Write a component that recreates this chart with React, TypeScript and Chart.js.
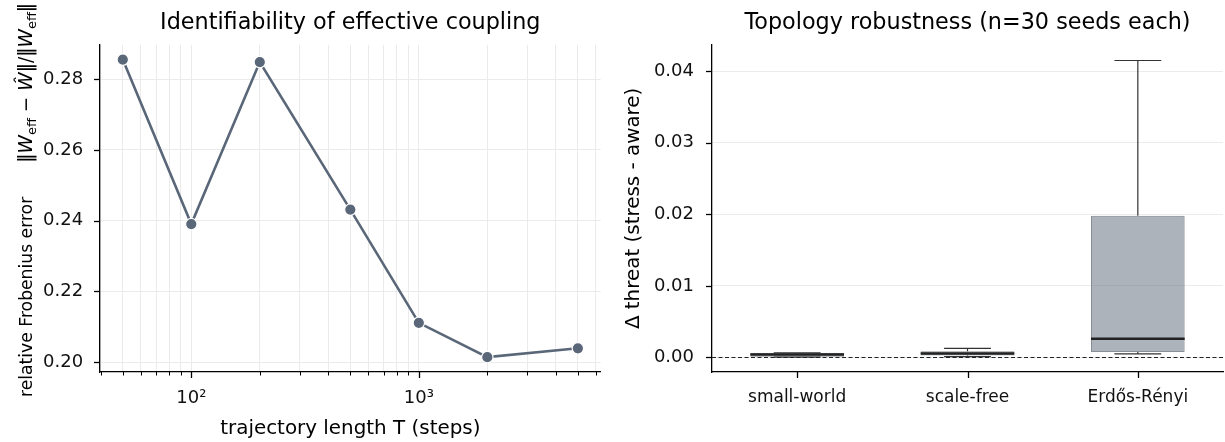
import React, { useEffect, useRef } from "react";
import { Chart, registerables } from "chart.js";

Chart.register(...registerables);

// ---------------- data ----------------
const trajLengths = [50, 100, 200, 500, 1000, 2000, 5000];
const frobErrors = [0.2855, 0.239, 0.2848, 0.2431, 0.2111, 0.2014, 0.2039];
const leftYTicks = [0.2, 0.22, 0.24, 0.26, 0.28];
const leftXMajor = [100, 1000];
const leftXMinor = [40, 50, 60, 70, 80, 90, 200, 300, 400, 500, 600, 700, 800, 900, 2000, 3000, 4000, 5000, 6000];

const topologies = ["small-world", "scale-free", "Erdős-Rényi"];
const whiskerLow = [0.00003, 0.00012, 0.0005];
const boxQ1 = [0.0001, 0.00025, 0.00075];
const boxMedian = [0.0004, 0.00055, 0.0026];
const boxQ3 = [0.0006, 0.00085, 0.0198];
const whiskerHigh = [0.00065, 0.00125, 0.0415];
const rightYTicks = [0, 0.01, 0.02, 0.03, 0.04];

const leftTitle = "Identifiability of effective coupling";
const rightTitle = "Topology robustness (n=30 seeds each)";
const leftXLabel = "trajectory length T (steps)";
const leftYLabelText = "relative Frobenius error";
const rightYLabel = "Δ threat (stress - aware)";

// ---------------- styles ----------------
const FONT = "'DejaVu Sans', sans-serif";
const SLATE = "#5a6778";
const BOX_FILL = "rgba(90,103,120,0.5)";
const BOX_EDGE = "#8a8f96";
const GRID = "#ebebeb";
const TICK_SIZE = 18;
const LABEL_SIZE = 19.9;
const YLABEL_PLAIN_SIZE = 17.2;
const YLABEL_MATH_SIZE = 18.6;
const TITLE_SIZE = 22.3;

const tickMarksPlugin = {
  id: "tickMarks",
  afterDraw(chart: any) {
    const ctx = chart.ctx;
    const area = chart.chartArea;
    ctx.save();
    ctx.strokeStyle = "#000";
    for (const id of ["x", "y"]) {
      const s = chart.scales[id];
      s.ticks.forEach((t: any, i: number) => {
        const p = Math.round(s.getPixelForTick(i)) + 0.5;
        const major = t.major !== false;
        const len = major ? 6 : 3.5;
        ctx.lineWidth = major ? 1.3 : 1;
        ctx.beginPath();
        if (s.isHorizontal()) {
          ctx.moveTo(p, area.bottom);
          ctx.lineTo(p, area.bottom + len);
        } else {
          ctx.moveTo(area.left, p);
          ctx.lineTo(area.left - len, p);
        }
        ctx.stroke();
      });
    }
    ctx.restore();
  },
};

const mathYLabelPlugin = {
  id: "mathYLabel",
  afterDraw(chart: any) {
    const ctx = chart.ctx;
    const m = YLABEL_MATH_SIZE;
    const base = `${m}px ${FONT}`;
    const ital = `italic ${m}px ${FONT}`;
    const sub = `${m * 0.7}px ${FONT}`;
    const subDy = m * 0.22;
    const segs = [
      { t: leftYLabelText, f: `${YLABEL_PLAIN_SIZE}px ${FONT}`, dy: 0, gap: 0 },
      { t: "‖", f: base, dy: 0, gap: 34 },
      { t: "W", f: ital, dy: 0, gap: 0 },
      { t: "eff", f: sub, dy: subDy, gap: 0 },
      { t: " − ", f: base, dy: 0, gap: 0 },
      { t: "Ŵ", f: ital, dy: 0, gap: 0 },
      { t: "‖/‖", f: base, dy: 0, gap: 0 },
      { t: "W", f: ital, dy: 0, gap: 0 },
      { t: "eff", f: sub, dy: subDy, gap: 0 },
      { t: "‖", f: base, dy: 0, gap: 0 },
    ];
    ctx.save();
    ctx.translate(32, 397);
    ctx.rotate(-Math.PI / 2);
    ctx.fillStyle = "#000";
    ctx.textBaseline = "alphabetic";
    ctx.textAlign = "left";
    let x = 0;
    for (const s of segs) {
      x += s.gap;
      ctx.font = s.f;
      ctx.fillText(s.t, x, s.dy);
      x += ctx.measureText(s.t).width;
    }
    ctx.restore();
  },
};

const boxPlotPlugin = {
  id: "boxWhiskers",
  afterDatasetsDraw(chart: any) {
    const ctx = chart.ctx;
    const meta = chart.getDatasetMeta(0);
    const y = chart.scales.y;
    ctx.save();
    meta.data.forEach((el: any, i: number) => {
      const x = el.x;
      const w = el.width;
      const yLo = y.getPixelForValue(whiskerLow[i]);
      const yQ1 = y.getPixelForValue(boxQ1[i]);
      const yQ3 = y.getPixelForValue(boxQ3[i]);
      const yHi = y.getPixelForValue(whiskerHigh[i]);
      const yMed = y.getPixelForValue(boxMedian[i]);
      ctx.strokeStyle = "#333";
      ctx.lineWidth = 1.2;
      ctx.beginPath();
      ctx.moveTo(x, yQ3);
      ctx.lineTo(x, yHi);
      ctx.moveTo(x, yQ1);
      ctx.lineTo(x, yLo);
      ctx.moveTo(x - w / 4, yHi);
      ctx.lineTo(x + w / 4, yHi);
      ctx.moveTo(x - w / 4, yLo);
      ctx.lineTo(x + w / 4, yLo);
      ctx.stroke();
      ctx.strokeStyle = "#222";
      ctx.lineWidth = 2.5;
      ctx.beginPath();
      ctx.moveTo(x - w / 2, yMed);
      ctx.lineTo(x + w / 2, yMed);
      ctx.stroke();
    });
    const area = chart.chartArea;
    const y0 = Math.round(y.getPixelForValue(0)) + 0.5;
    ctx.strokeStyle = "#222";
    ctx.lineWidth = 1;
    ctx.setLineDash([4, 2.5]);
    ctx.beginPath();
    ctx.moveTo(area.left, y0);
    ctx.lineTo(area.right, y0);
    ctx.stroke();
    ctx.restore();
  },
};

function LeftChart() {
  const ref = useRef<HTMLCanvasElement>(null);
  useEffect(() => {
    const chart = new Chart(ref.current as HTMLCanvasElement, {
      type: "line",
      data: {
        datasets: [
          {
            data: trajLengths.map((x, i) => ({ x, y: frobErrors[i] })),
            borderColor: SLATE,
            borderWidth: 2.6,
            pointRadius: 5.7,
            pointBackgroundColor: SLATE,
            pointBorderColor: "#ffffff",
            pointBorderWidth: 1.2,
            tension: 0,
          },
        ],
      },
      options: {
        responsive: false,
        animation: false,
        devicePixelRatio: 1,
        layout: { padding: { left: 43, right: 8, top: 0, bottom: 0 } },
        plugins: {
          legend: { display: false },
          tooltip: { enabled: false },
          title: {
            display: true,
            text: leftTitle,
            fullSize: false,
            color: "#000",
            font: { family: FONT, size: TITLE_SIZE, weight: "normal", lineHeight: 1.2 },
            padding: { top: 10, bottom: 8 },
          },
        },
        scales: {
          x: {
            type: "logarithmic",
            position: "bottom",
            min: 39.7,
            max: 6295,
            afterBuildTicks: (s: any) => {
              const all = [...leftXMinor, ...leftXMajor].sort((a, b) => a - b);
              s.ticks = all.map((v) => ({ value: v, major: leftXMajor.includes(v) }));
            },
            afterFit: (s: any) => {
              s.height = 70;
            },
            ticks: {
              autoSkip: false,
              maxRotation: 0,
              color: "#111",
              padding: 16,
              font: { family: FONT, size: TICK_SIZE },
              callback: (v: any) => (v === 100 ? "10²" : v === 1000 ? "10³" : ""),
            },
            grid: { color: GRID, lineWidth: 1, drawTicks: false },
            border: { color: "#000", width: 1.3 },
            title: {
              display: true,
              text: leftXLabel,
              color: "#000",
              font: { family: FONT, size: LABEL_SIZE, lineHeight: 1.2 },
              padding: { top: 0, bottom: 1 },
            },
          },
          y: {
            type: "linear",
            position: "left",
            min: 0.1972,
            max: 0.2897,
            afterBuildTicks: (s: any) => {
              s.ticks = leftYTicks.map((v) => ({ value: v }));
            },
            afterFit: (s: any) => {
              s.width = 57;
            },
            ticks: {
              color: "#111",
              padding: 17,
              crossAlign: "far",
              font: { family: FONT, size: TICK_SIZE },
              callback: (v: any) => Number(v).toFixed(2),
            },
            grid: { color: GRID, lineWidth: 1, drawTicks: false },
            border: { color: "#000", width: 1.3 },
          },
        },
      } as any,
      plugins: [tickMarksPlugin, mathYLabelPlugin],
    });
    return () => chart.destroy();
  }, []);
  return (
    <canvas
      ref={ref}
      width={612}
      height={442}
      style={{ position: "absolute", left: 0, top: 0, width: 612, height: 442 }}
    />
  );
}

function RightChart() {
  const ref = useRef<HTMLCanvasElement>(null);
  useEffect(() => {
    const chart = new Chart(ref.current as HTMLCanvasElement, {
      type: "bar",
      data: {
        labels: topologies,
        datasets: [
          {
            data: topologies.map((_, i) => [boxQ1[i], boxQ3[i]]),
            backgroundColor: BOX_FILL,
            borderColor: BOX_EDGE,
            borderWidth: 1,
            borderSkipped: false,
            barPercentage: 0.55,
            categoryPercentage: 1,
          },
        ],
      },
      options: {
        responsive: false,
        animation: false,
        devicePixelRatio: 1,
        layout: { padding: { left: 0, right: 2, top: 0, bottom: 0 } },
        plugins: {
          legend: { display: false },
          tooltip: { enabled: false },
          title: {
            display: true,
            text: rightTitle,
            fullSize: false,
            color: "#000",
            font: { family: FONT, size: TITLE_SIZE, weight: "normal", lineHeight: 1.2 },
            padding: { top: 10, bottom: 8 },
          },
        },
        scales: {
          x: {
            type: "category",
            afterFit: (s: any) => {
              s.height = 70;
            },
            ticks: {
              color: "#111",
              padding: 15,
              maxRotation: 0,
              autoSkip: false,
              font: { family: FONT, size: 17 },
            },
            grid: { display: false, drawTicks: false },
            border: { color: "#000", width: 1.3 },
          },
          y: {
            type: "linear",
            min: -0.00204,
            max: 0.0437,
            afterBuildTicks: (s: any) => {
              s.ticks = rightYTicks.map((v) => ({ value: v }));
            },
            afterFit: (s: any) => {
              s.width = 100;
            },
            ticks: {
              color: "#111",
              padding: 18,
              font: { family: FONT, size: TICK_SIZE },
              callback: (v: any) => Number(v).toFixed(2),
            },
            grid: { color: GRID, lineWidth: 1, drawTicks: false },
            border: { color: "#000", width: 1.3 },
            title: {
              display: true,
              text: rightYLabel,
              color: "#000",
              font: { family: FONT, size: LABEL_SIZE, lineHeight: 1.2 },
              padding: { top: 10, bottom: 0 },
            },
          },
        },
      } as any,
      plugins: [tickMarksPlugin, boxPlotPlugin],
    });
    return () => chart.destroy();
  }, []);
  return (
    <canvas
      ref={ref}
      width={613}
      height={442}
      style={{ position: "absolute", left: 612, top: 0, width: 613, height: 442 }}
    />
  );
}

export default function App() {
  return (
    <div
      style={{
        position: "absolute",
        left: 0,
        top: 0,
        width: 1225,
        height: 442,
        background: "#ffffff",
        overflow: "hidden",
      }}
    >
      <LeftChart />
      <RightChart />
    </div>
  );
}
